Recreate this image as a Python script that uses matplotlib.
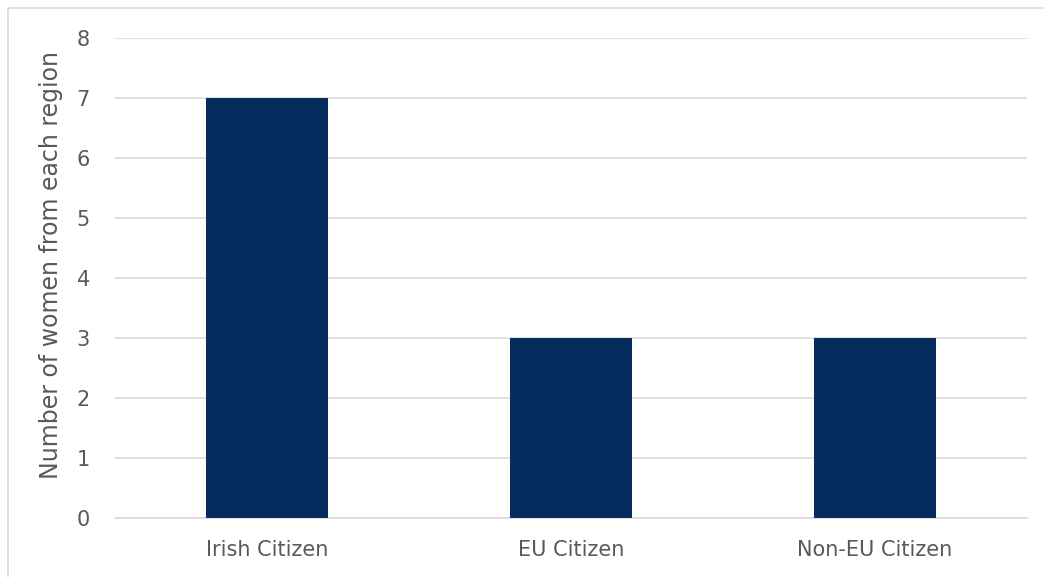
import matplotlib.pyplot as plt
from matplotlib.patches import Rectangle

# data
categories = ["Irish Citizen", "EU Citizen", "Non-EU Citizen"]
counts = [7, 3, 3]
y_ticks = [0, 1, 2, 3, 4, 5, 6, 7, 8]

plt.rcParams["font.family"] = ["DejaVu Sans"]

fig = plt.figure(figsize=(10.43, 5.77), dpi=100)
ax = fig.add_axes([115 / 1043, 1 - 518 / 577, 912 / 1043, 480 / 577])

# outer chart border (cropped on right/bottom)
fig.patches.append(Rectangle((8 / 1043, -0.1), 1.2, 1 - 8 / 577 + 0.1,
                             transform=fig.transFigure, fill=False,
                             edgecolor="#D9D9D9", linewidth=1.2))

ax.bar(range(len(categories)), counts, width=0.4, color="#052C5C", zorder=3)

ax.set_xlim(-0.5, len(categories) - 0.5)
ax.set_ylim(0, 8)
ax.set_yticks(y_ticks)
ax.set_xticks(range(len(categories)))
ax.set_xticklabels(categories)
ax.grid(axis="y", color="#D9D9D9", linewidth=1.2, zorder=0)

for s in ["top", "right", "left"]:
    ax.spines[s].set_visible(False)
ax.spines["bottom"].set_color("#D9D9D9")
ax.spines["bottom"].set_linewidth(1.2)

ax.tick_params(axis="both", length=0, labelsize=15, colors="#595959")
ax.tick_params(axis="y", pad=18)
ax.tick_params(axis="x", pad=15.5)

ax.set_ylabel("Number of women from each region", fontsize=17,
              color="#595959", labelpad=10)
ax.yaxis.label.set_y(0.527)

fig.savefig("out.png", dpi=100)
